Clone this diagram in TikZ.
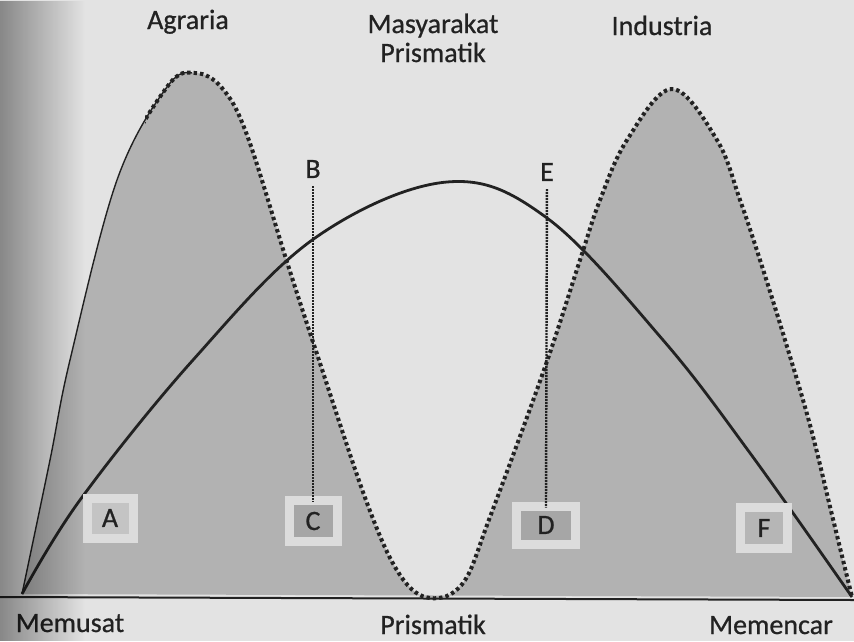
\documentclass[tikz,border=0pt]{standalone}
\usepackage{fontspec}
\setmainfont{Carlito}[FakeBold=0.7]
\usetikzlibrary{fadings}

\definecolor{ink}{HTML}{222222}
\definecolor{paper}{HTML}{E3E3E3}
\definecolor{hump}{HTML}{B2B2B2}
\definecolor{frame}{HTML}{DCDCDC}
\definecolor{inner}{HTML}{A6A6A6}

% the two curves, in pixel coordinates
\def\humps{plot[smooth,tension=0.6] coordinates {(22,594) (50,460) (70,360) (117,180) (167,87) (195,73)
  (222,88) (247,135) (287,262) (315,348) (367,503) (400,575) (430,598)
  (463,583) (490,517) (545,367) (580,260) (600,200) (627,140) (672,89) (717,140)
  (740,200) (760,260) (785,340) (810,425) (832,515) (852,597)}}
\def\bell{plot[smooth,tension=0.6] coordinates {(22,594) (80,500) (193,360) (315,238) (447,182)
  (547,218) (663,340) (750,453) (852,597)}}

\begin{document}
\begin{tikzpicture}[x=1pt,y=-1pt,font=\fontsize{28}{29}\selectfont,
  txt/.style={text=ink,inner sep=1pt,anchor=base},
  ltr/.style={text=ink,font=\fontsize{28}{30}\selectfont,inner sep=1pt},
  bx/.style={ltr,draw=frame,line width=9pt,fill=inner,inner sep=0pt},
  heavy/.style={draw=ink,line width=4pt,dash pattern=on 3.4pt off 3pt},
  fine/.style={draw=ink,line width=2.4pt,dash pattern=on 2pt off 1pt}]
\useasboundingbox (0,0) rectangle (854,641);
\fill[paper] (0,0) rectangle (854,641);

% shaded humps
\fill[hump] \humps -- cycle;
\begin{scope}
  \clip (0,0) rectangle (192,641);
  \draw[ink,line width=1.4pt] \humps;
\end{scope}
\begin{scope}
  \clip (145,0) rectangle (854,641);
  \draw[heavy] \humps;
\end{scope}
\draw[ink,line width=2.8pt] \bell;
\draw[ink,line width=2pt] (0,597) -- (854,600);

\node[txt] (agr) at (188,29) {Agraria};
\node[txt,align=center] (masy) at (433,62) {Masyarakat\\Prismatik};
\node[txt] (ind) at (662,35) {Industria};

\node[bx,fill=inner!45!frame,minimum width=46pt,minimum height=40pt] (bA) at (110,518) {A};
\node[bx,minimum width=48pt,minimum height=41pt] (bC) at (313,521) {C};
\node[bx,minimum width=59pt,minimum height=38pt] (bD) at (546,525) {D};
\node[bx,fill=inner!70!frame,minimum width=47pt,minimum height=41pt] (bF) at (764,528) {F};

\node[ltr] (nB) at (313,169) {B};
\node[ltr] (nE) at (547,172) {E};
\draw[fine,shorten <=7pt] (nB) -- ([yshift=-6pt]bC.north);
\draw[fine,shorten <=7pt] (nE) -- ([yshift=-6pt]bD.north);

\node[txt] (memusat) at (70,632) {Memusat};
\node[txt] (prism) at (433,634) {Prismatik};
\node[txt] (memencar) at (771,634) {Memencar};

% shadow of the binding
\fill[black,opacity=0.4,path fading=east] (0,0) rectangle (85,641);
\end{tikzpicture}
\end{document}
